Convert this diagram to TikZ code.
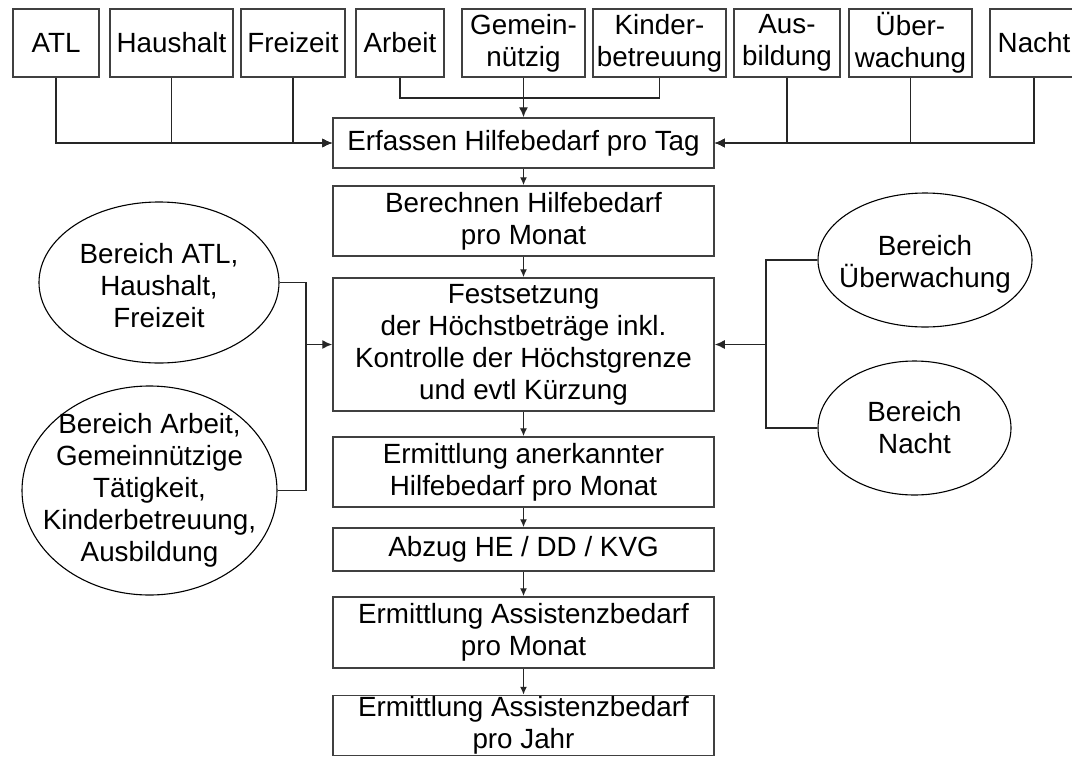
\documentclass[tikz,border=0pt]{standalone}
\usepackage{fontspec}
\setmainfont{Liberation Sans}
\usetikzlibrary{shapes.geometric,arrows.meta}

\begin{document}
\begin{tikzpicture}[x=0.5pt,y=-0.5pt]
	\tikzstyle{every node}=[font=\fontsize{13.9}{16}\selectfont]
	\tikzstyle{box}=[draw=black!75,line width=0.75pt,inner sep=0pt,align=center]
	\tikzstyle{oben}=[box,minimum height=34pt]
	\tikzstyle{haupt}=[box,minimum width=190.5pt]
	\tikzstyle{bereich}=[draw,ellipse,line width=0.55pt,inner sep=0pt]
	\tikzstyle{txt}=[align=center,inner sep=0pt]
	\tikzstyle{linie}=[draw=black!85,line width=0.7pt]
	\tikzstyle{pfeil}=[linie,-{Latex[length=5pt,width=4.5pt]}]
	\tikzstyle{schritt}=[linie,-{Latex[length=4pt,width=3.5pt]}]
	\useasboundingbox (0,0) rectangle (1072,756);

	\node[oben,minimum width=43pt] (atl) at (56,43) {ATL};
	\node[oben,minimum width=61.5pt] (haushalt) at (171.5,43) {Haushalt};
	\node[oben,minimum width=52pt] (freizeit) at (293,43) {Freizeit};
	\node[oben,minimum width=44pt] (arbeit) at (400,43) {Arbeit};
	\node[oben,minimum width=61.5pt] (gemein) at (523.5,43) {Gemein-\\nützig};
	\node[oben,minimum width=66.5pt] (kinder) at (659.5,43) {Kinder-\\betreuung};
	\node[oben,minimum width=53pt] (ausbildung) at (787,43) {Aus-\\bildung};
	\node[oben,minimum width=61.5pt] (ueberw) at (910.5,43) {Über-\\wachung};
	\node[oben,minimum width=44pt] (nacht) at (1034,43) {Nacht};

	\node[haupt,minimum height=25pt] (erfassen) at (523.5,143) {Erfassen Hilfebedarf pro Tag};
	\node[haupt,minimum height=35pt] (berechnen) at (523.5,221) {Berechnen Hilfebedarf\\pro Monat};
	\node[haupt,minimum height=66.5pt] (fest) at (523.5,344.5) {Festsetzung\\der Höchstbeträge inkl.\\Kontrolle der Höchstgrenze\\und evtl Kürzung};
	\node[haupt,minimum height=35pt] (anerk) at (523.5,472) {Ermittlung anerkannter\\Hilfebedarf pro Monat};
	\node[haupt,minimum height=21.5pt] (abzug) at (523.5,549.5) {Abzug HE / DD / KVG};
	\node[haupt,minimum height=35.5pt] (amonat) at (523.5,632.5) {Ermittlung Assistenzbedarf\\pro Monat};
	\node[haupt,minimum height=30pt] (ajahr) at (523.5,725.5) {Ermittlung Assistenzbedarf\\pro Jahr};

	\node[bereich,minimum width=120pt,minimum height=80.5pt] (bATL) at (159,282.5) {};
	\node[txt] (tATL) at (159,286) {Bereich ATL,\\Haushalt,\\Freizeit};
	\node[bereich,minimum width=127.5pt,minimum height=104.5pt] (bArbeit) at (149.5,490.5) {};
	\node[txt] (tArbeit) at (bArbeit) {Bereich Arbeit,\\Gemeinnützige\\Tätigkeit,\\Kinderbetreuung,\\Ausbildung};
	\node[bereich,minimum width=107pt,minimum height=67pt] (bUeb) at (925,260) {};
	\node[txt] (tUeb) at (925,264) {Bereich\\Überwachung};
	\node[bereich,minimum width=96.5pt,minimum height=67pt] (bNacht) at (914.5,428) {};
	\node[txt] (tNacht) at (bNacht) {Bereich\\Nacht};

	\coordinate (mitte) at (523.5,98);
	\coordinate (links) at (306,344.5);
	\coordinate (rechts) at (766,344.5);

	\draw[pfeil] (atl.south) |- (erfassen.west);
	\draw[pfeil] (haushalt.south) |- (erfassen.west);
	\draw[pfeil] (freizeit.south) |- (erfassen.west);
	\draw[linie] (arbeit.south) |- (mitte);
	\draw[linie] (kinder.south) |- (mitte);
	\draw[pfeil] (gemein.south) -- (erfassen.north);
	\draw[pfeil] (ausbildung.south) |- (erfassen.east);
	\draw[pfeil] (ueberw.south) |- (erfassen.east);
	\draw[pfeil] (nacht.south) |- (erfassen.east);

	\draw[schritt] (erfassen) -- (berechnen);
	\draw[schritt] (berechnen) -- (fest);
	\draw[schritt] (fest) -- (anerk);
	\draw[schritt] (anerk) -- (abzug);
	\draw[schritt] (abzug) -- (amonat);
	\draw[schritt] (amonat) -- (ajahr);

	\draw[linie] (bATL.east) -| (links);
	\draw[linie] (bArbeit.east) -| (links);
	\draw[pfeil] (links) -- (fest.west);
	\draw[linie] (bUeb.west) -| (rechts);
	\draw[linie] (bNacht.west) -| (rechts);
	\draw[pfeil] (rechts) -- (fest.east);
\end{tikzpicture}
\end{document}
